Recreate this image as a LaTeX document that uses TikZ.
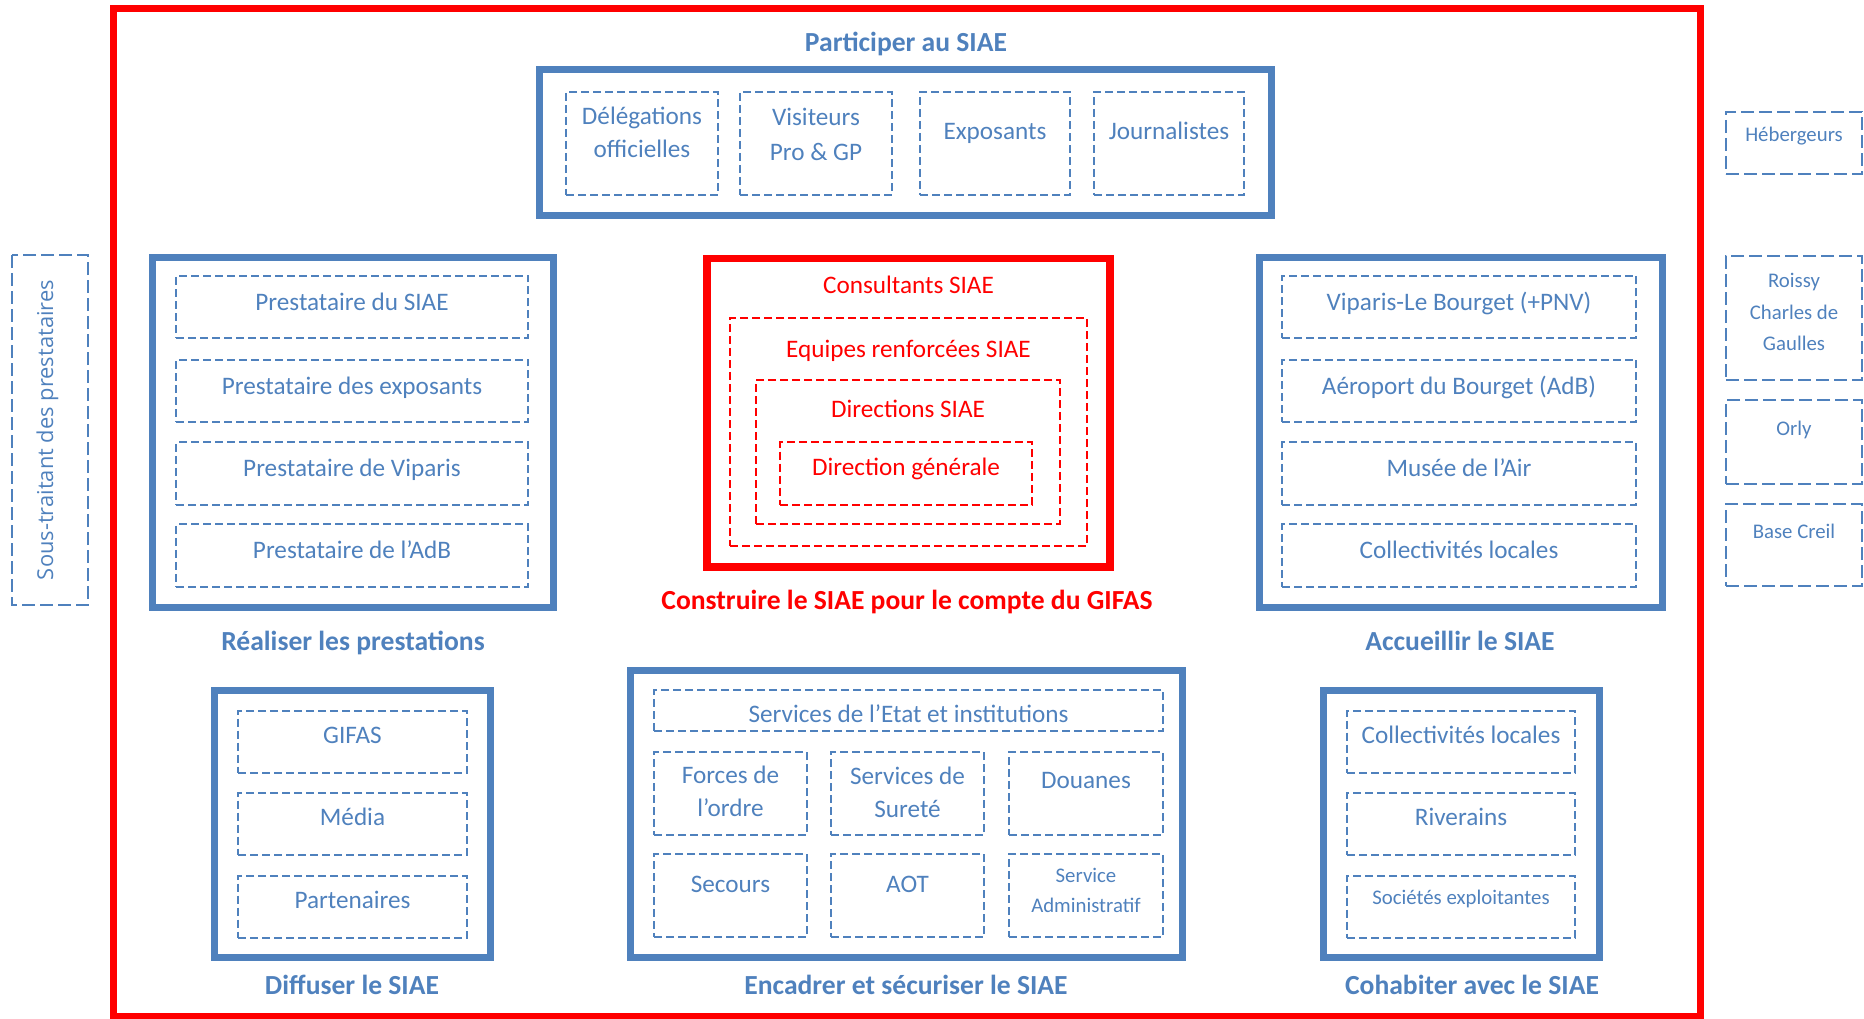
\documentclass[tikz,border=0pt]{standalone}
\usepackage{fontspec}
\setmainfont{Carlito}
\newfontfamily\sidefont{Open Sans}

\definecolor{siaeblue}{RGB}{79,129,189}
\definecolor{siaered}{RGB}{255,0,0}

\newcommand\cellfont{\fontsize{25.2}{33}\selectfont}
\newcommand\smallcellfont{\fontsize{20.8}{30}\selectfont}
\newcommand\headfont{\fontsize{27.6}{32}\selectfont\bfseries}

\begin{document}
\begin{tikzpicture}[x=1pt, y=-1pt,
    wh/.style 2 args={minimum width=#1, minimum height=#2},
    lift/.style={text height=18pt, text depth=#1},
    mlift/.style={text depth=#1},
    bluebox/.style={draw=siaeblue, line width=7pt, inner sep=0pt},
    redbox/.style={draw=siaered, line width=7.5pt, inner sep=0pt},
    cell/.style={draw=siaeblue, line width=2pt, dash pattern=on 8pt off 4pt,
        text=siaeblue, font=\cellfont, align=center, inner sep=0pt},
    redcell/.style={cell, draw=siaered, text=siaered},
    outcell/.style={cell, dash pattern=on 13pt off 5pt, font=\smallcellfont},
    heading/.style={text=siaeblue, font=\headfont, text height=20pt, text depth=7pt},
    redtext/.style={text=siaered, font=\cellfont, text height=18pt, text depth=6pt}]

    \useasboundingbox (0,0) rectangle (1864,1019);

    % The red frame round the whole SIAE
    \node[redbox, line width=7pt, wh={1586.5}{1007}] (siae) at (906.75,512.5) {};

    % Participer au SIAE
    \node[heading] (parthead) at (906,45) {Participer au SIAE};
    \node[bluebox, wh={732}{145.5}] (part) at (905.5,142.75) {};
    \node[cell, wh={152}{103}, mlift=23pt] (deleg) at (642,143.5) {Délégations\\officielles};
    \node[cell, wh={152}{103}, mlift=19pt] (visit) at (816,143.5) {Visiteurs\\[2pt]Pro \& GP};
    \node[cell, wh={150}{103}, lift=26pt] (expo) at (995,143.5) {Exposants};
    \node[cell, wh={150}{103}, lift=26pt] (journ) at (1169,143.5) {Journalistes};

    % Realiser les prestations
    \node[bluebox, wh={401.5}{349}] (real) at (352.75,432.5) {};
    \foreach \name/\y/\txt in {presa/307/Prestataire du SIAE,
            presb/391/Prestataire des exposants,
            presc/473.5/Prestataire de Viparis,
            presd/555.5/Prestataire de l’AdB}
        \node[cell, wh={352}{62.5}, lift=12pt] (\name) at (352,\y) {\txt};
    \node[heading] (realhead) at (353,644) {Réaliser les prestations};

    % Construire le SIAE: the rings round the Direction generale
    \node[redbox, wh={403}{308.5}] (gifas) at (908.5,412.75) {};
    \node[redtext] (cons) at (908.5,287) {Consultants SIAE};
    \node[redcell, wh={357}{228}] (equi) at (908.5,432) {};
    \node[redtext] (equitxt) at (908.5,351) {Equipes renforcées SIAE};
    \node[redcell, wh={304}{144}] (dirs) at (908,452) {};
    \node[redtext] (dirstxt) at (908,411) {Directions SIAE};
    \node[redcell, wh={252}{62.5}, lift=13pt] (dirg) at (906,473.25) {Direction générale};
    \node[heading, text=siaered] (gifashead) at (907,603) {Construire le SIAE pour le compte du GIFAS};

    % Accueillir le SIAE
    \node[bluebox, wh={402.5}{349}] (accu) at (1460.75,432.5) {};
    \foreach \name/\y/\txt in {acca/307/Viparis-Le Bourget (+PNV),
            accb/391/Aéroport du Bourget (AdB),
            accc/473.5/Musée de l’Air,
            accd/555.5/Collectivités locales}
        \node[cell, wh={354}{62.5}, lift=12pt] (\name) at (1459,\y) {\txt};
    \node[heading] (accuhead) at (1460,644) {Accueillir le SIAE};

    % Diffuser le SIAE
    \node[bluebox, wh={275.5}{267.5}] (diff) at (352.25,823.75) {};
    \foreach \name/\y/\txt in {diffa/741.5/GIFAS, diffb/823.5/Média, diffc/906.5/Partenaires}
        \node[cell, wh={229}{62}, lift=14pt] (\name) at (352.5,\y) {\txt};
    \node[heading] (diffhead) at (352,988) {Diffuser le SIAE};

    % Encadrer et securiser le SIAE
    \node[bluebox, wh={552}{287}] (enca) at (906.5,814) {};
    \node[cell, wh={509}{41}, text height=24pt, text depth=1pt] (etat) at (908.5,710.5) {Services de l’Etat et institutions};
    \node[cell, wh={153}{83}, mlift=4pt] (forces) at (730.5,793.5) {Forces de\\l’ordre};
    \node[cell, wh={153}{83}, mlift=3pt] (surete) at (907.5,793.5) {Services de\\Sureté};
    \node[cell, wh={154}{83}, lift=28pt] (douanes) at (1086,793.5) {Douanes};
    \node[cell, wh={153}{83}, lift=24pt] (secours) at (730.5,895.5) {Secours};
    \node[cell, wh={153}{83}, lift=24pt] (aot) at (907.5,895.5) {AOT};
    \node[cell, wh={154}{83}, mlift=10pt, font=\smallcellfont] (admin) at (1086,895.5) {Service\\Administratif};
    \node[heading] (encahead) at (906,988) {Encadrer et sécuriser le SIAE};

    % Cohabiter avec le SIAE
    \node[bluebox, wh={275.5}{267.5}] (coha) at (1461.25,823.75) {};
    \node[cell, wh={228}{62}, lift=14pt] (cohaa) at (1461,741.5) {Collectivités locales};
    \node[cell, wh={228}{62}, lift=14pt] (cohab) at (1461,823.5) {Riverains};
    \node[cell, wh={228}{62}, lift=23pt, font=\smallcellfont] (cohac) at (1461,906.5) {Sociétés exploitantes};
    \node[heading] (cohahead) at (1472,988) {Cohabiter avec le SIAE};

    % Outside the red frame
    \node[outcell, wh={350}{76}, rotate=90, lift=12pt,
        font=\sidefont\fontsize{21.9}{26}\selectfont] (sous) at (50,430) {Sous-traitant des prestataires};
    \node[outcell, wh={136}{62}, lift=21pt] (heberg) at (1794,143) {Hébergeurs};
    \node[outcell, wh={136}{124}, mlift=12pt,
        font=\fontsize{20.8}{31.5}\selectfont] (roissy) at (1794,318) {Roissy\\Charles de\\Gaulles};
    \node[outcell, wh={136}{84}, lift=31pt] (orly) at (1794,442) {Orly};
    \node[outcell, wh={136}{82}, lift=31pt] (creil) at (1794,545) {Base Creil};
\end{tikzpicture}
\end{document}
